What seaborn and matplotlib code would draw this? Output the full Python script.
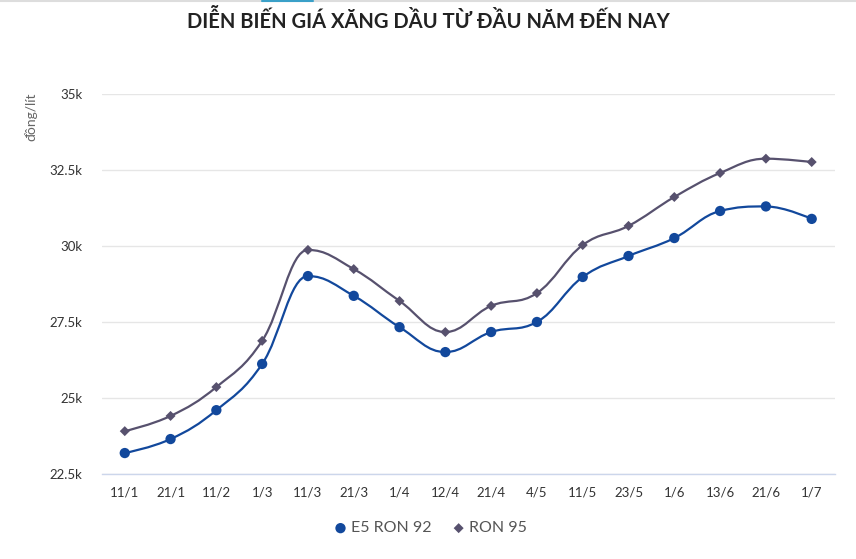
import numpy as np
import pandas as pd
import matplotlib
matplotlib.use("Agg")
import matplotlib.pyplot as plt
import seaborn as sns
from matplotlib.path import Path
from matplotlib.patches import PathPatch
from matplotlib.ticker import FuncFormatter

# ---------------------------------------------------------------
# Data
dates = ["11/1", "21/1", "11/2", "1/3", "11/3", "21/3", "1/4", "12/4",
         "21/4", "4/5", "11/5", "23/5", "1/6", "13/6", "21/6", "1/7"]
e5_ron92 = [23190, 23650, 24600, 26120, 29010, 28360, 27330, 26510,
            27170, 27500, 28980, 29670, 30260, 31150, 31300, 30890]
ron95 = [23910, 24410, 25360, 26880, 29870, 29240, 28190, 27170,
         28030, 28450, 30030, 30660, 31610, 32400, 32870, 32760]
yticks = [22500, 25000, 27500, 30000, 32500, 35000]

df = pd.DataFrame({
    "date": dates * 2,
    "pos": list(range(len(dates))) * 2,
    "price": e5_ron92 + ron95,
    "fuel": ["E5 RON 92"] * len(dates) + ["RON 95"] * len(dates),
})

colors = {"E5 RON 92": "#12489c", "RON 95": "#57516e"}
markers = {"E5 RON 92": "o", "RON 95": "D"}
msizes = {"E5 RON 92": 55, "RON 95": 26}


# ---------------------------------------------------------------
# spline path like the web chart (bezier control points, smoothing 1.5)
def spline_path(xs, ys, smoothing=1.5):
    denom = smoothing + 1
    n = len(xs)
    verts = [(xs[0], ys[0])]
    codes = [Path.MOVETO]
    right_prev = (xs[0], ys[0])
    for i in range(1, n):
        x, y = xs[i], ys[i]
        lx, ly = xs[i - 1], ys[i - 1]
        if i < n - 1:
            nx, ny = xs[i + 1], ys[i + 1]
            lcx = (smoothing * x + lx) / denom
            lcy = (smoothing * y + ly) / denom
            rcx = (smoothing * x + nx) / denom
            rcy = (smoothing * y + ny) / denom
            if rcx != lcx:
                corr = (rcy - lcy) * (rcx - x) / (rcx - lcx) + y - rcy
                lcy += corr
                rcy += corr
            if lcy > ly and lcy > y:
                lcy = max(ly, y)
                rcy = 2 * y - lcy
            elif lcy < ly and lcy < y:
                lcy = min(ly, y)
                rcy = 2 * y - lcy
            if rcy > ny and rcy > y:
                rcy = max(ny, y)
                lcy = 2 * y - rcy
            elif rcy < ny and rcy < y:
                rcy = min(ny, y)
                lcy = 2 * y - rcy
            left = (lcx, lcy)
            right = (rcx, rcy)
        else:
            left = (x, y)
            right = (x, y)
        verts += [right_prev, left, (x, y)]
        codes += [Path.CURVE4] * 3
        right_prev = right
    return Path(verts, codes)


# ---------------------------------------------------------------
sns.set_theme(style="white")
plt.rcParams["font.family"] = ["Lato", "DejaVu Sans"]

fig = plt.figure(figsize=(8.56, 5.59), dpi=100)
ax = fig.add_axes([0.119, 0.152, 0.856, 0.680])

for fuel in ["E5 RON 92", "RON 95"]:
    sub = df[df["fuel"] == fuel]
    p = spline_path(sub["pos"].tolist(), sub["price"].tolist())
    ax.add_patch(PathPatch(p, facecolor="none", edgecolor=colors[fuel],
                           lw=1.6, zorder=2))
    sns.scatterplot(data=sub, x="pos", y="price", color=colors[fuel],
                    marker=markers[fuel], s=msizes[fuel], edgecolor="none",
                    label=fuel, ax=ax, zorder=3)

ax.set_xlim(-0.5, len(dates) - 0.5)
ax.set_ylim(22500, 35000)
ax.set_xticks(range(len(dates)))
ax.set_xticklabels(dates)
ax.set_yticks(yticks)
ax.yaxis.set_major_formatter(FuncFormatter(lambda v, p: f"{v/1000:g}k"))
ax.tick_params(axis="both", length=0, labelsize=9.5, colors="#333333")
ax.tick_params(axis="x", pad=9)
ax.tick_params(axis="y", pad=14)
ax.grid(axis="y", color="#e6e6e6", lw=1)
ax.set_axisbelow(True)
for s in ["top", "right", "left"]:
    ax.spines[s].set_visible(False)
ax.spines["bottom"].set_color("#ccd6eb")
ax.spines["bottom"].set_linewidth(1)
ax.set_xlabel("")
ax.set_ylabel("")

fig.text(0.036, 0.835, "đồng/lít", rotation=90, ha="center", va="top",
         fontsize=10, color="#666666")

fig.text(0.5, 0.963, "DIỄN BIẾN GIÁ XĂNG DẦU TỪ ĐẦU NĂM ĐẾN NAY",
         ha="center", va="center", fontsize=14.5, fontweight="bold",
         color="#222222")

handles, labels = ax.get_legend_handles_labels()
ax.legend(handles, labels, loc="center", bbox_to_anchor=(0.502, 0.055),
          bbox_transform=fig.transFigure, ncol=2, frameon=False,
          fontsize=11.5, labelcolor="#555555", handletextpad=0.15,
          handlelength=1.0, columnspacing=1.2, markerscale=1.0)

# thin page line at top
fig.add_artist(plt.Line2D([0, 1], [0.998, 0.998], color="#dddddd", lw=1.5,
                          transform=fig.transFigure))
fig.add_artist(plt.Line2D([0.306, 0.366], [0.998, 0.998], color="#3aa0c8",
                          lw=1.5, transform=fig.transFigure))

fig.savefig("out.png", dpi=100)
